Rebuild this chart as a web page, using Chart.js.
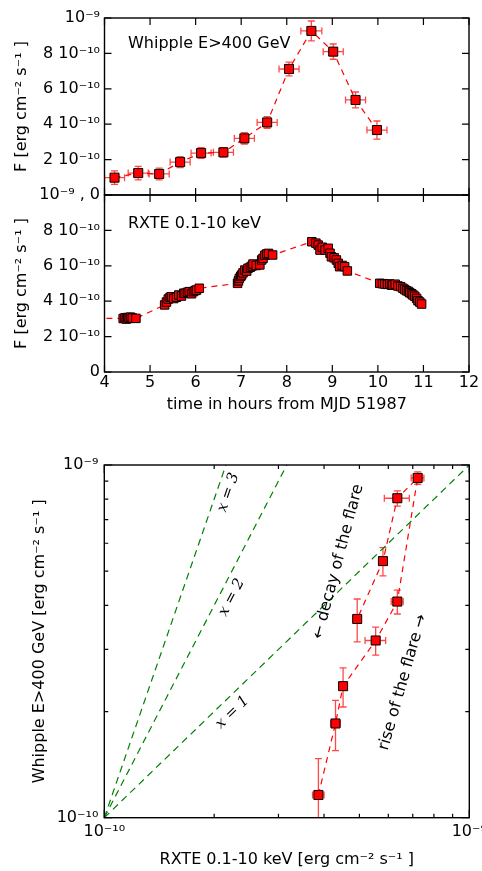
<!DOCTYPE html>
<html>
<head>
<meta charset="utf-8">
<script src="https://cdn.jsdelivr.net/npm/chart.js@4/dist/chart.umd.min.js"></script>
<style>
html,body{margin:0;padding:0;background:#fff;overflow:hidden;width:482px;height:871px}
.wrap{position:absolute;left:0;width:482px}
canvas{display:block}
</style>
</head>
<body>
<div class="wrap" style="top:0;height:205px"><canvas id="c1" width="482" height="205"></canvas></div>
<div class="wrap" style="top:190px;height:230px"><canvas id="c2" width="482" height="230"></canvas></div>
<div class="wrap" style="top:440px;height:431px"><canvas id="c3" width="482" height="431"></canvas></div>
<script>
// ---------- data (fluxes in units of 1e-10 erg cm^-2 s^-1) ----------
// Top panel: Whipple E>400 GeV light curve
const whippleHours   = [4.22, 4.74, 5.20, 5.66, 6.12, 6.61, 7.07, 7.57, 8.05, 8.54, 9.02, 9.51, 9.98];
const whippleFlux    = [0.98, 1.24, 1.19, 1.86, 2.37, 2.41, 3.20, 4.10, 7.12, 9.27, 8.10, 5.37, 3.67];
const whippleFluxErr = [0.38, 0.38, 0.33, 0.31, 0.30, 0.27, 0.32, 0.33, 0.39, 0.56, 0.43, 0.45, 0.51];
const whippleHourErr = [0.22, 0.22, 0.22, 0.22, 0.22, 0.22, 0.22, 0.22, 0.22, 0.23, 0.22, 0.22, 0.22];

// Middle panel: RXTE 0.1-10 keV light curve
const rxteHours = [3.80,
  4.41, 4.45, 4.48, 4.51, 4.54, 4.57, 4.61, 4.69,
  5.32, 5.36, 5.40, 5.44, 5.47, 5.52, 5.58, 5.63, 5.69, 5.74, 5.77, 5.82, 5.86, 5.91, 5.95, 5.99, 6.02, 6.08,
  6.92, 6.94, 6.96, 6.99, 7.01, 7.04, 7.08, 7.12, 7.15, 7.20, 7.24, 7.26, 7.33, 7.41, 7.45, 7.48, 7.52, 7.56, 7.60, 7.69,
  8.55, 8.64, 8.69, 8.73, 8.78, 8.84, 8.91, 8.95, 8.98, 9.04, 9.09, 9.13, 9.16, 9.22, 9.27, 9.33,
  10.04, 10.10, 10.15, 10.21, 10.26, 10.30, 10.33, 10.38, 10.44, 10.50, 10.55, 10.59, 10.63, 10.67, 10.70, 10.74, 10.77, 10.81, 10.85, 10.88, 10.92, 10.96];
const rxteFlux = [3.04,
  3.02, 3.06, 2.99, 3.08, 3.03, 3.10, 3.05, 3.03,
  3.79, 3.95, 4.12, 4.22, 4.25, 4.15, 4.22, 4.35, 4.29, 4.45, 4.44, 4.50, 4.54, 4.42, 4.54, 4.60, 4.63, 4.73,
  5.01, 5.15, 5.29, 5.40, 5.48, 5.60, 5.76, 5.70, 5.86, 5.92, 5.99, 6.10, 6.02, 6.05, 6.33, 6.42, 6.60, 6.67, 6.70, 6.61,
  7.36, 7.28, 7.17, 6.89, 7.05, 6.89, 6.99, 6.71, 6.51, 6.45, 6.33, 6.14, 5.95, 6.02, 5.95, 5.71,
  5.01, 4.99, 4.97, 4.95, 4.97, 4.90, 4.92, 4.96, 4.86, 4.82, 4.73, 4.66, 4.59, 4.55, 4.48, 4.42, 4.35, 4.28, 4.16, 4.03, 3.95, 3.84];

// Bottom panel: Whipple vs RXTE correlation (time ordered)
const corrXray    = [3.86, 4.30, 4.51, 5.54, 6.35, 7.22, 6.35, 5.80, 4.93];
const corrXrayErr = [0.14, 0.13, 0.08, 0.36, 0.24, 0.29, 0.50, 0.06, 0.06];
const corrTeV     = [1.16, 1.85, 2.36, 3.18, 4.10, 9.19, 8.05, 5.34, 3.66];
const corrTeVErr  = [0.31, 0.30, 0.30, 0.29, 0.32, 0.37, 0.40, 0.49, 0.51];

// Power-law reference lines F_TeV ~ F_X^x from (1,1)
const powerIndexLabels = ['x = 1', 'x = 2', 'x = 3'];
const powerStartX = [1, 1, 1];
const powerStartY = [1, 1, 1];
const powerEndX   = [10, 3.162, 2.154];
const powerEndY   = [10, 10, 10];

// Tick values / labels
const timeTicks = [4, 5, 6, 7, 8, 9, 10, 11, 12];
const timeTickLabels = ['4', '5', '6', '7', '8', '9', '10', '11', '12'];
const fluxTicks = [0, 2, 4, 6, 8, 10];
const whippleFluxTickLabels = ['10⁻⁹ , 0', '2 10⁻¹⁰', '4 10⁻¹⁰', '6 10⁻¹⁰', '8 10⁻¹⁰', '10⁻⁹'];
const rxteFluxTickLabels = ['0', '2 10⁻¹⁰', '4 10⁻¹⁰', '6 10⁻¹⁰', '8 10⁻¹⁰', ''];
const logMajorTicks = [1, 10];
const logMajorLabels = ['10⁻¹⁰', '10⁻⁹'];
const logMinorTicks = [2, 3, 4, 5, 6, 7, 8, 9];

// ---------- helpers ----------
const FONT = "'DejaVu Sans', sans-serif";
const RED = '#ff0000';
const ERR = 'rgba(255,0,0,0.72)';
const GREEN = '#008000';

function pts(xs, ys) { return xs.map((v, i) => ({x: v, y: ys[i]})); }

function drawErrorBars(chart, xs, ys, xe, ye, cap) {
  const {ctx, chartArea: a, scales: {x, y}} = chart;
  ctx.save();
  ctx.beginPath(); ctx.rect(a.left, a.top, a.right - a.left, a.bottom - a.top); ctx.clip();
  ctx.strokeStyle = ERR; ctx.lineWidth = 1.3;
  ctx.beginPath();
  xs.forEach((xv, i) => {
    const px = x.getPixelForValue(xv), py = y.getPixelForValue(ys[i]);
    if (ye) {
      const y1 = y.getPixelForValue(ys[i] - ye[i]), y2 = y.getPixelForValue(ys[i] + ye[i]);
      ctx.moveTo(px, y1); ctx.lineTo(px, y2);
      ctx.moveTo(px - cap, y1); ctx.lineTo(px + cap, y1);
      ctx.moveTo(px - cap, y2); ctx.lineTo(px + cap, y2);
    }
    if (xe) {
      const x1 = x.getPixelForValue(xv - xe[i]), x2 = x.getPixelForValue(xv + xe[i]);
      ctx.moveTo(x1, py); ctx.lineTo(x2, py);
      ctx.moveTo(x1, py - cap); ctx.lineTo(x1, py + cap);
      ctx.moveTo(x2, py - cap); ctx.lineTo(x2, py + cap);
    }
  });
  ctx.stroke();
  ctx.restore();
}

function drawFrame(chart, xVals, yVals, len, xMinor, yMinor, minorLen) {
  const {ctx, chartArea: a, scales: {x, y}} = chart;
  ctx.save();
  ctx.strokeStyle = '#000';
  ctx.lineWidth = 1.4;
  ctx.strokeRect(a.left, a.top, a.right - a.left, a.bottom - a.top);
  ctx.lineWidth = 1.2;
  const tick = (xv, yv, l) => {
    ctx.beginPath();
    (xv || []).forEach(v => {
      const p = x.getPixelForValue(v);
      ctx.moveTo(p, a.bottom); ctx.lineTo(p, a.bottom - l);
      ctx.moveTo(p, a.top); ctx.lineTo(p, a.top + l);
    });
    (yv || []).forEach(v => {
      const p = y.getPixelForValue(v);
      ctx.moveTo(a.left, p); ctx.lineTo(a.left + l, p);
      ctx.moveTo(a.right, p); ctx.lineTo(a.right - l, p);
    });
    ctx.stroke();
  };
  tick(xVals, yVals, len);
  if (xMinor || yMinor) tick(xMinor, yMinor, minorLen);
  ctx.restore();
}

function drawText(ctx, text, px, py, rotDeg, font, align) {
  ctx.save();
  ctx.translate(px, py);
  ctx.rotate(rotDeg * Math.PI / 180);
  ctx.font = font;
  ctx.fillStyle = '#000';
  ctx.textAlign = align || 'center';
  ctx.textBaseline = 'middle';
  ctx.fillText(text, 0, 0);
  ctx.restore();
}

function yAxis(labels, ticks, title, width, titlePad, extra) {
  return Object.assign({
    type: 'linear', position: 'left', min: 0, max: 10,
    grid: {display: false, drawTicks: false}, border: {display: false},
    ticks: {stepSize: 2, padding: 4.5, color: '#000', font: {family: FONT, size: 16},
      callback: v => { const k = ticks.indexOf(v); return k >= 0 ? labels[k] : ''; }},
    title: {display: true, text: title, color: '#000', font: {family: FONT, size: 16}, padding: {top: titlePad, bottom: 0}},
    afterFit: s => { s.width = width; s.paddingTop = 0; s.paddingBottom = 0; }
  }, extra || {});
}

const baseOpts = {
  responsive: false, devicePixelRatio: 1, animation: false, events: [],
  plugins: {legend: {display: false}, tooltip: {enabled: false}}
};

const markerStyle = {
  pointStyle: 'rect', pointBackgroundColor: RED, pointBorderColor: '#000', pointBorderWidth: 1
};

// ---------- top panel ----------
new Chart(document.getElementById('c1'), {
  type: 'scatter',
  data: {datasets: [Object.assign({
    data: pts(whippleHours, whippleFlux),
    showLine: true, borderColor: RED, borderWidth: 1.2, borderDash: [6, 5],
    pointRadius: 6.4, clip: 0
  }, markerStyle)]},
  options: Object.assign({}, baseOpts, {
    layout: {autoPadding: false, padding: {left: 0, top: 18, right: 13, bottom: 10}},
    scales: {
      x: {type: 'linear', min: 4, max: 12, display: false},
      y: yAxis(whippleFluxTickLabels, fluxTicks, 'F [erg cm⁻² s⁻¹ ]', 104.5, 12)
    }
  }),
  plugins: [{
    id: 'topDeco',
    beforeDatasetsDraw(chart) { drawErrorBars(chart, whippleHours, whippleFlux, whippleHourErr, whippleFluxErr, 3.5); },
    afterDatasetsDraw(chart) {
      drawFrame(chart, timeTicks, fluxTicks, 7);
      drawText(chart.ctx, 'Whipple E>400 GeV', 128, 43.5, 0, '16px ' + FONT, 'left');
    }
  }]
});

// ---------- middle panel ----------
new Chart(document.getElementById('c2'), {
  type: 'scatter',
  data: {datasets: [Object.assign({
    data: pts(rxteHours, rxteFlux),
    showLine: true, borderColor: RED, borderWidth: 1.2, borderDash: [6, 5],
    pointRadius: 6.0, clip: 0
  }, markerStyle)]},
  options: Object.assign({}, baseOpts, {
    layout: {autoPadding: false, padding: {left: 0, top: 5, right: 13, bottom: 0}},
    scales: {
      x: {type: 'linear', position: 'bottom', min: 4, max: 12,
        grid: {display: false, drawTicks: false}, border: {display: false},
        ticks: {stepSize: 1, padding: 1, autoSkip: false, maxRotation: 0, minRotation: 0,
          color: '#000', font: {family: FONT, size: 16},
          callback: v => { const k = timeTicks.indexOf(v); return k >= 0 ? timeTickLabels[k] : ''; }},
        title: {display: true, text: 'time in hours from MJD 51987', color: '#000',
          font: {family: FONT, size: 16}, padding: {top: 0, bottom: 6}},
        afterFit: s => { s.height = 48; s.paddingLeft = 0; s.paddingRight = 0; }
      },
      y: yAxis(rxteFluxTickLabels, fluxTicks, 'F [erg cm⁻² s⁻¹ ]', 104.5, 12)
    }
  }),
  plugins: [{
    id: 'midDeco',
    afterDatasetsDraw(chart) {
      drawFrame(chart, timeTicks, fluxTicks, 7);
      drawText(chart.ctx, 'RXTE 0.1-10 keV', 128, 33.5, 0, '16px ' + FONT, 'left');
    }
  }]
});

// ---------- bottom panel ----------
const powerSets = powerIndexLabels.map((lab, i) => ({
  label: lab,
  data: [{x: powerStartX[i], y: powerStartY[i]}, {x: powerEndX[i], y: powerEndY[i]}],
  showLine: true, borderColor: GREEN, borderWidth: 1.2, borderDash: [7, 5], pointRadius: 0, clip: 0
}));
const labelPos = [[2.245, 1.988], [2.234, 4.21], [2.186, 8.36]];

new Chart(document.getElementById('c3'), {
  type: 'scatter',
  data: {datasets: powerSets.concat([Object.assign({
    data: pts(corrXray, corrTeV),
    showLine: true, borderColor: RED, borderWidth: 1.2, borderDash: [6, 5],
    pointRadius: 6.4, clip: 0
  }, markerStyle)])},
  options: Object.assign({}, baseOpts, {
    layout: {autoPadding: false, padding: {left: 0, top: 25, right: 12.7, bottom: 0}},
    scales: {
      x: {type: 'logarithmic', position: 'bottom', min: 1, max: 10,
        grid: {display: false, drawTicks: false}, border: {display: false},
        ticks: {padding: 4.7, autoSkip: false, maxRotation: 0, minRotation: 0,
          color: '#000', font: {family: FONT, size: 16},
          callback: v => { const k = logMajorTicks.indexOf(v); return k >= 0 ? logMajorLabels[k] : ''; }},
        title: {display: true, text: 'RXTE 0.1-10 keV [erg cm⁻² s⁻¹ ]', color: '#000',
          font: {family: FONT, size: 16}, padding: {top: 0, bottom: 1.4}},
        afterFit: s => { s.height = 53.3; s.paddingLeft = 0; s.paddingRight = 0; }
      },
      y: {type: 'logarithmic', position: 'left', min: 1, max: 10,
        grid: {display: false, drawTicks: false}, border: {display: false},
        ticks: {padding: 6, autoSkip: false, color: '#000', font: {family: FONT, size: 16},
          callback: v => { const k = logMajorTicks.indexOf(v); return k >= 0 ? logMajorLabels[k] : ''; }},
        title: {display: true, text: 'Whipple E>400 GeV [erg cm⁻² s⁻¹ ]', color: '#000',
          font: {family: FONT, size: 16}, padding: {top: 30.4, bottom: 0}},
        afterFit: s => { s.width = 104.3; s.paddingTop = 0; s.paddingBottom = 0; }
      }
    }
  }),
  plugins: [{
    id: 'botDeco',
    beforeDatasetsDraw(chart) { drawErrorBars(chart, corrXray, corrTeV, corrXrayErr, corrTeVErr, 3.5); },
    afterDatasetsDraw(chart) {
      const {ctx, scales: {x, y}} = chart;
      drawFrame(chart, logMajorTicks, logMajorTicks, 8, logMinorTicks, logMinorTicks, 4);
      powerIndexLabels.forEach((lab, i) => {
        const x1 = x.getPixelForValue(powerStartX[i]), y1 = y.getPixelForValue(powerStartY[i]);
        const x2 = x.getPixelForValue(powerEndX[i]), y2 = y.getPixelForValue(powerEndY[i]);
        const ang = Math.atan2(y2 - y1, x2 - x1) * 180 / Math.PI;
        drawText(ctx, lab, x.getPixelForValue(labelPos[i][0]), y.getPixelForValue(labelPos[i][1]), ang,
          "italic 15px 'DejaVu Serif', serif", 'center');
      });
      drawText(ctx, '← decay of the flare', x.getPixelForValue(4.375), y.getPixelForValue(5.32), -75, '16px ' + FONT, 'center');
      drawText(ctx, 'rise of the flare →', x.getPixelForValue(6.58), y.getPixelForValue(2.42), -74, '16px ' + FONT, 'center');
    }
  }]
});
</script>
</body>
</html>
